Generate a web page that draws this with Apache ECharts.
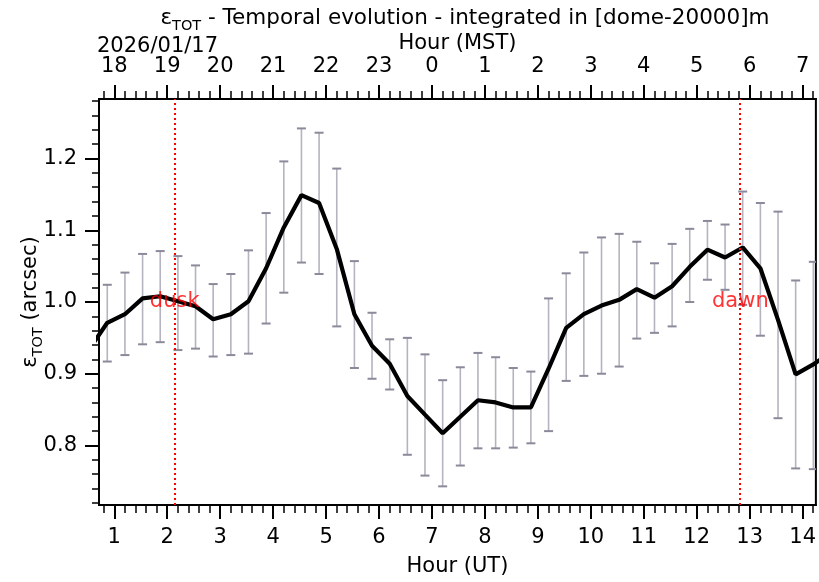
<!DOCTYPE html>
<html>
<head>
<meta charset="utf-8">
<script src="https://cdn.jsdelivr.net/npm/echarts@6/dist/echarts.min.js"></script>
<style>
html,body{margin:0;padding:0;background:#fff;}
#chart{width:819px;height:582px;}
</style>
</head>
<body>
<div id="chart"></div>
<script>
// Time of each sample in hours (UT)
var hoursUT = [0.535, 0.868, 1.202, 1.535, 1.868, 2.202, 2.535, 2.868, 3.202, 3.535,
  3.868, 4.202, 4.535, 4.868, 5.202, 5.535, 5.868, 6.202, 6.535, 6.868,
  7.202, 7.535, 7.868, 8.202, 8.535, 8.868, 9.202, 9.535, 9.868, 10.202,
  10.535, 10.868, 11.202, 11.535, 11.868, 12.202, 12.535, 12.868, 13.202, 13.535,
  13.868, 14.202, 14.535];
// Mean integrated seeing (arcsec)
var epsMean = [0.935, 0.971, 0.983, 1.005, 1.008, 1.001, 0.994, 0.976, 0.983, 1.001,
  1.047, 1.104, 1.149, 1.138, 1.074, 0.983, 0.939, 0.914, 0.869, 0.843,
  0.817, 0.840, 0.863, 0.860, 0.853, 0.853, 0.907, 0.964, 0.983, 0.995,
  1.003, 1.018, 1.006, 1.022, 1.049, 1.073, 1.062, 1.076, 1.047, 0.975,
  0.899, 0.913, 0.930];
// Error bar upper / lower ends
var epsHigh = [0.990, 1.024, 1.041, 1.067, 1.071, 1.064, 1.051, 1.025, 1.039, 1.072,
  1.124, 1.196, 1.242, 1.236, 1.186, 1.057, 0.985, 0.948, 0.950, 0.927,
  0.891, 0.909, 0.929, 0.923, 0.908, 0.903, 1.005, 1.040, 1.069, 1.090,
  1.095, 1.084, 1.054, 1.081, 1.102, 1.113, 1.108, 1.154, 1.138, 1.126,
  1.030, 1.056, 1.060];
var epsLow = [0.880, 0.917, 0.926, 0.941, 0.944, 0.933, 0.935, 0.924, 0.926, 0.928,
  0.970, 1.013, 1.055, 1.039, 0.966, 0.908, 0.893, 0.878, 0.787, 0.758,
  0.743, 0.772, 0.796, 0.796, 0.797, 0.803, 0.820, 0.890, 0.897, 0.900,
  0.910, 0.949, 0.957, 0.966, 1.000, 1.031, 1.017, 0.996, 0.953, 0.838,
  0.768, 0.767, 0.800];
// Twilight markers
var eventNames = ['dusk', 'dawn'];
var eventHours = [2.142, 12.824];
// Axis ticks
var utTicks = [1, 2, 3, 4, 5, 6, 7, 8, 9, 10, 11, 12, 13, 14];
var yTicks = [0.8, 0.9, 1.0, 1.1, 1.2];
var dateLabel = '2026/01/17';

var xMin = 0.712, xMax = 14.25, yMin = 0.717, yMax = 1.283;

var xMinor = [];
for (var t = 0.8; t < xMax; t += 0.2) xMinor.push(Math.round(t * 10) / 10);
var yMinor = [];
for (var v = 0.72; v < yMax; v += 0.02) yMinor.push(Math.round(v * 100) / 100);

var FONT = 'DejaVu Sans';
var FS = 21;
var lineData = hoursUT.map(function (h, i) { return [h, epsMean[i]]; });
var errData = hoursUT.map(function (h, i) { return [h, epsLow[i], epsHigh[i]]; });
var eventData = eventNames.map(function (n, i) { return { name: n, value: [eventHours[i], 1.0] }; });

function richEps(fs) {
  return {
    e: { fontFamily: FONT, fontSize: fs, fontWeight: 'normal', color: '#000', lineHeight: 26, verticalAlign: 'bottom' },
    s: { fontFamily: FONT, fontSize: 14.5, fontWeight: 'normal', color: '#000', lineHeight: 20, verticalAlign: 'bottom', padding: [0, 0, -5, 0] }
  };
}

function xAxisBase(pos, major) {
  return {
    type: 'value', position: pos, min: xMin, max: xMax,
    axisLine: { show: major, lineStyle: { color: '#000', width: 2 } },
    splitLine: { show: false },
    axisTick: { show: true, customValues: major ? utTicks : xMinor, length: major ? 14 : 8,
      lineStyle: { color: '#000', width: major ? 2 : 1.5 } },
    axisLabel: { show: false }
  };
}

var bottomMajor = xAxisBase('bottom', true);
bottomMajor.axisLabel = { show: true, customValues: utTicks, margin: 22, color: '#000',
  fontFamily: FONT, fontSize: FS, formatter: function (v) { return String(Math.round(v)); } };
bottomMajor.name = 'Hour (UT)';
bottomMajor.nameLocation = 'middle';
bottomMajor.nameGap = 51;
bottomMajor.nameMoveOverlap = false;
bottomMajor.nameTextStyle = { color: '#000', fontFamily: FONT, fontSize: FS };

var topMajor = xAxisBase('top', true);
topMajor.axisLabel = { show: true, customValues: utTicks, margin: 22, color: '#000',
  fontFamily: FONT, fontSize: FS,
  formatter: function (v) { return String((Math.round(v) + 17) % 24); } };
topMajor.name = 'Hour (MST)';
topMajor.nameLocation = 'middle';
topMajor.nameGap = 45;
topMajor.nameMoveOverlap = false;
topMajor.nameTextStyle = { color: '#000', fontFamily: FONT, fontSize: FS };

var option = {
  animation: false,
  backgroundColor: '#fff',
  title: {
    text: '{e|ε}{s|TOT}{e| - Temporal evolution - integrated in [dome-20000]m}',
    left: 460, textAlign: 'center', top: -2,
    textStyle: { fontWeight: 'normal', rich: richEps(21.5) }
  },
  graphic: [{
    type: 'text', left: 97, top: 36,
    style: { text: dateLabel, fontFamily: FONT, fontSize: FS, fill: '#000' }
  }],
  grid: { left: 99, top: 99, right: 1, bottom: 74, containLabel: false,
    show: true, borderColor: '#000', borderWidth: 2, backgroundColor: 'transparent' },
  xAxis: [bottomMajor, xAxisBase('bottom', false), topMajor, xAxisBase('top', false)],
  yAxis: [
    {
      type: 'value', position: 'left', min: yMin, max: yMax,
      axisLine: { show: true, lineStyle: { color: '#000', width: 2 } },
      splitLine: { show: false },
      axisTick: { show: true, customValues: yTicks, length: 14, lineStyle: { color: '#000', width: 2 } },
      axisLabel: { show: true, customValues: yTicks, margin: 22, color: '#000', fontFamily: FONT, fontSize: FS,
        formatter: function (v) { return v.toFixed(1); } },
      name: '{e|ε}{s|TOT}{e| (arcsec)}',
      nameLocation: 'middle', nameGap: 58, nameRotate: 90, nameMoveOverlap: false,
      nameTextStyle: { rich: richEps(FS) }
    },
    {
      type: 'value', position: 'left', min: yMin, max: yMax,
      axisLine: { show: false }, splitLine: { show: false },
      axisTick: { show: true, customValues: yMinor, length: 7, lineStyle: { color: '#000', width: 1.5 } },
      axisLabel: { show: false }
    }
  ],
  series: [
    {
      type: 'custom', name: 'err', xAxisIndex: 0, yAxisIndex: 0, clip: true, z: 2,
      data: errData,
      renderItem: function (params, api) {
        var x = api.value(0);
        var pLo = api.coord([x, api.value(1)]);
        var pHi = api.coord([x, api.value(2)]);
        var cw = 4.5;
        return {
          type: 'group',
          children: [
            { type: 'line', shape: { x1: pHi[0], y1: pHi[1], x2: pLo[0], y2: pLo[1] },
              style: { stroke: '#b4b4c0', lineWidth: 1.6 } },
            { type: 'line', shape: { x1: pHi[0] - cw, y1: pHi[1], x2: pHi[0] + cw, y2: pHi[1] },
              style: { stroke: '#8a8a9a', lineWidth: 2 } },
            { type: 'line', shape: { x1: pLo[0] - cw, y1: pLo[1], x2: pLo[0] + cw, y2: pLo[1] },
              style: { stroke: '#8a8a9a', lineWidth: 2 } }
          ]
        };
      }
    },
    {
      type: 'line', name: 'mean', xAxisIndex: 0, yAxisIndex: 0, data: lineData,
      showSymbol: false, symbol: 'none', clip: true, z: 3,
      lineStyle: { color: '#000', width: 4.2 },
      markLine: {
        silent: true, symbol: ['none', 'none'], label: { show: false },
        lineStyle: { color: '#ff0000', type: [2, 3], width: 2 },
        data: eventHours.map(function (h) { return { xAxis: h }; })
      }
    },
    {
      type: 'scatter', name: 'events', xAxisIndex: 0, yAxisIndex: 0, data: eventData,
      symbolSize: 0, z: 4,
      label: { show: true, position: 'inside', formatter: '{b}', color: '#ff0000',
        fontFamily: FONT, fontSize: FS }
    }
  ]
};

var chart = echarts.init(document.getElementById('chart'), null, { renderer: 'canvas' });
chart.setOption(option);
</script>
</body>
</html>
